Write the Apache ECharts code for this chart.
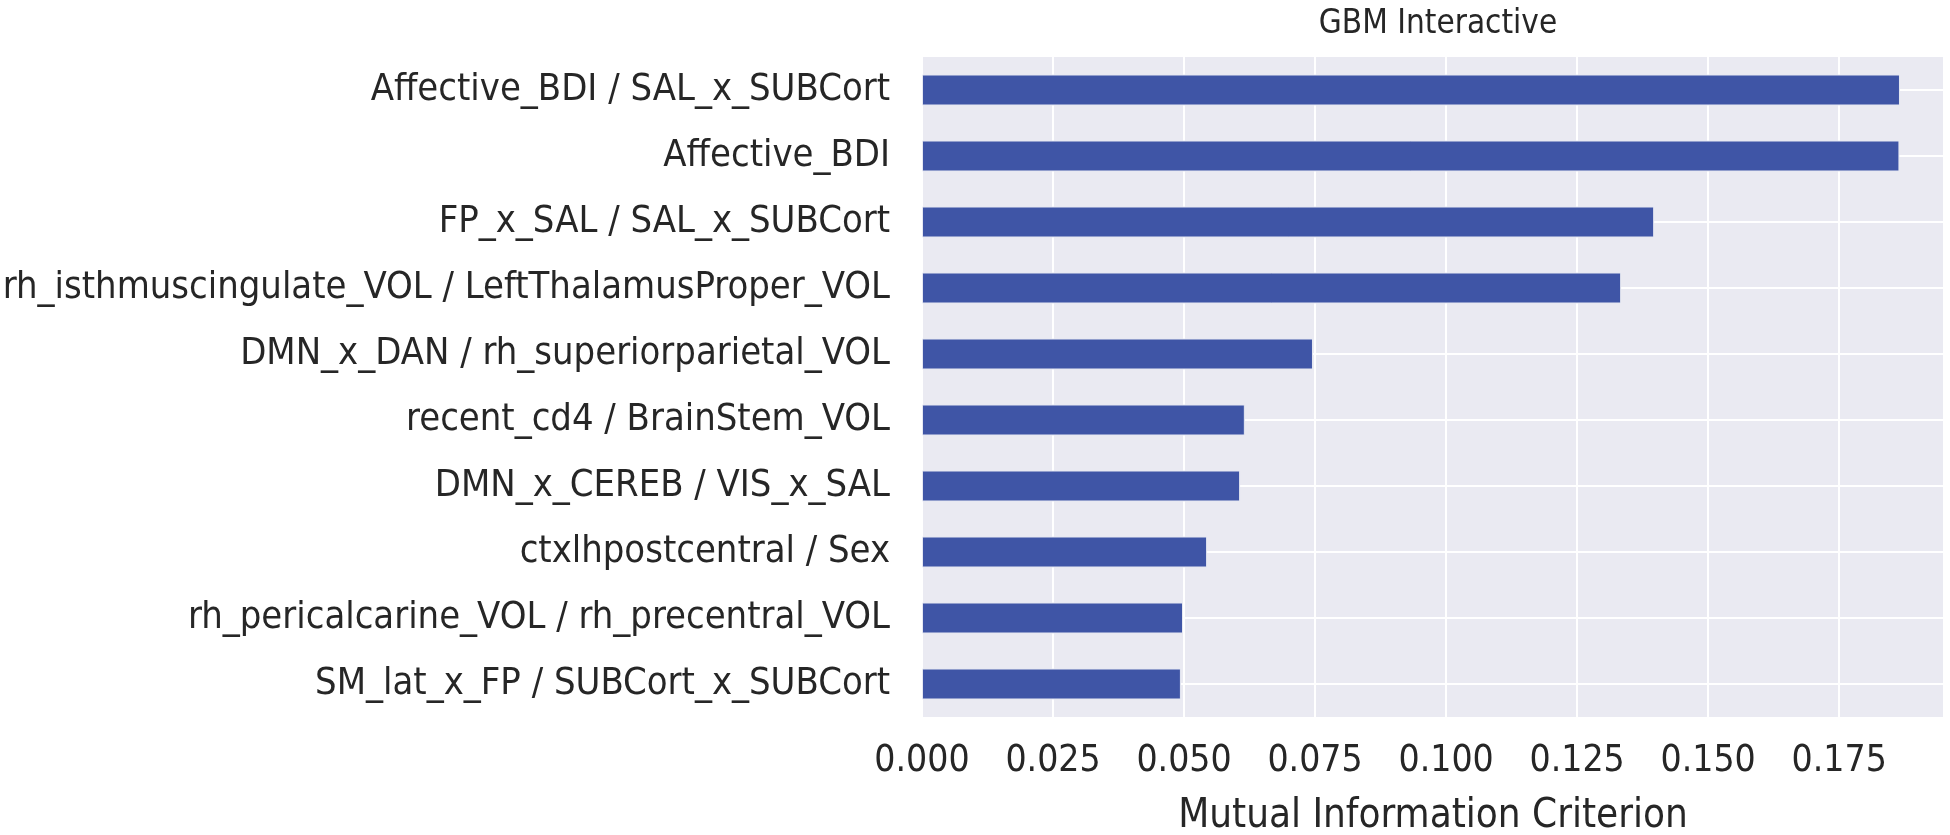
<!DOCTYPE html>
<html>
<head>
<meta charset="utf-8">
<script src="https://cdn.jsdelivr.net/npm/echarts@6/dist/echarts.min.js"></script>
<style>
html,body{margin:0;padding:0;background:#fff;}
#chart{width:1950px;height:835px;}
</style>
</head>
<body>
<div id="chart"></div>
<script>
const categories = [
  'Affective_BDI / SAL_x_SUBCort',
  'Affective_BDI',
  'FP_x_SAL / SAL_x_SUBCort',
  'rh_isthmuscingulate_VOL / LeftThalamusProper_VOL',
  'DMN_x_DAN / rh_superiorparietal_VOL',
  'recent_cd4 / BrainStem_VOL',
  'DMN_x_CEREB / VIS_x_SAL',
  'ctxlhpostcentral / Sex',
  'rh_pericalcarine_VOL / rh_precentral_VOL',
  'SM_lat_x_FP / SUBCort_x_SUBCort'
];
const values = [0.1866, 0.1865, 0.1397, 0.1334, 0.0746, 0.0616, 0.0607, 0.0544, 0.0498, 0.0494];
const xTicks = [0, 0.025, 0.05, 0.075, 0.1, 0.125, 0.15, 0.175];
const titleText = 'GBM Interactive';
const xName = 'Mutual Information Criterion';

const FONT = '"DejaVu Sans Condensed", "DejaVu Sans"';
const chart = echarts.init(document.getElementById('chart'));
chart.setOption({
  animation: false,
  backgroundColor: '#ffffff',
  title: {
    text: titleText,
    left: 1433,
    textAlign: 'center',
    top: 3,
    textStyle: {fontFamily: FONT, fontSize: 33, fontWeight: 'normal', color: '#262626'}
  },
  grid: {
    left: 922, right: 6, top: 57, bottom: 118,
    outerBoundsMode: 'none', containLabel: false,
    show: true, backgroundColor: '#EAEAF2', borderWidth: 0
  },
  xAxis: {
    type: 'value',
    min: 0, max: 0.195, interval: 0.025,
    name: xName, nameLocation: 'middle', nameGap: 80,
    nameTextStyle: {fontFamily: FONT, fontSize: 40, color: '#262626'},
    axisLine: {show: false}, axisTick: {show: false},
    axisLabel: {
      fontFamily: FONT, fontSize: 37, color: '#262626', margin: 26,
      showMaxLabel: false,
      formatter: v => xTicks.some(t => Math.abs(t - v) < 1e-9) ? v.toFixed(3) : ''
    },
    splitLine: {show: true, lineStyle: {color: '#ffffff', width: 2}}
  },
  yAxis: {
    type: 'category', inverse: true, data: categories,
    axisLine: {show: false}, axisTick: {show: false},
    axisLabel: {fontFamily: FONT, fontSize: 37.8, color: '#262626', margin: 32},
    splitLine: {show: false}
  },
  series: [
    {
      type: 'line', data: categories.map(() => '-'), z: 1, silent: true,
      markLine: {
        z: 1, silent: true, symbol: ['none', 'none'], label: {show: false},
        lineStyle: {color: '#ffffff', width: 2, type: 'solid'},
        data: categories.map(c => ({yAxis: c}))
      }
    },
    {
      type: 'bar', data: values, barWidth: 31, z: 4,
      itemStyle: {color: '#3F55A6', borderColor: '#e6e8f2', borderWidth: 1}
    }
  ]
});
</script>
</body>
</html>
